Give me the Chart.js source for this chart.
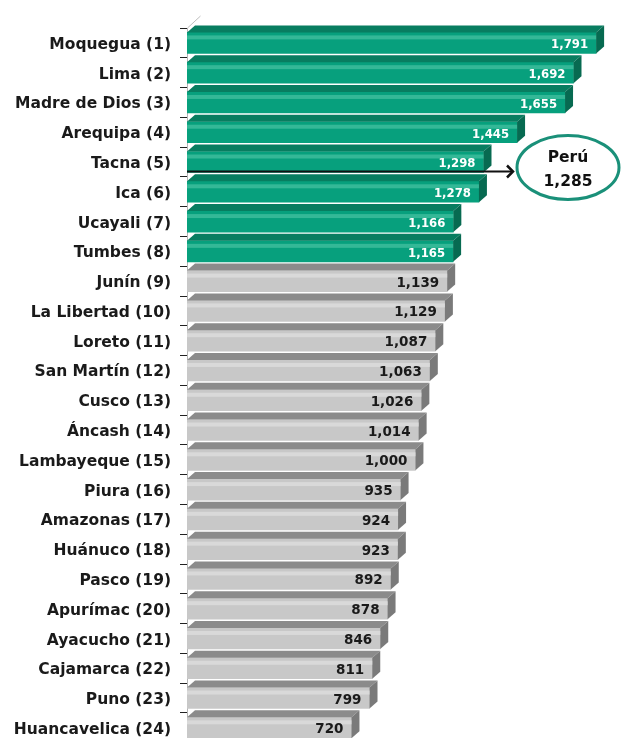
<!DOCTYPE html>
<html>
<head>
<meta charset="utf-8">
<script src="https://cdn.jsdelivr.net/npm/chart.js@4"></script>
<style>
  html, body { margin: 0; padding: 0; background: #fff; }
  #wrap { width: 621px; height: 738px; overflow: hidden; position: relative; }
</style>
</head>
<body>
<div id="wrap"><canvas id="chart" width="621" height="761"></canvas></div>
<script>
// datos del gráfico
const regions = [
  'Moquegua (1)', 'Lima (2)', 'Madre de Dios (3)', 'Arequipa (4)', 'Tacna (5)', 'Ica (6)',
  'Ucayali (7)', 'Tumbes (8)', 'Junín (9)', 'La Libertad (10)', 'Loreto (11)', 'San Martín (12)',
  'Cusco (13)', 'Áncash (14)', 'Lambayeque (15)', 'Piura (16)', 'Amazonas (17)', 'Huánuco (18)',
  'Pasco (19)', 'Apurímac (20)', 'Ayacucho (21)', 'Cajamarca (22)', 'Puno (23)', 'Huancavelica (24)'
];
const values = [
  1791, 1692, 1655, 1445, 1298, 1278,
  1166, 1165, 1139, 1129, 1087, 1063,
  1026, 1014, 1000, 935, 924, 923,
  892, 878, 846, 811, 799, 720
];
const aboveAverage = 8;          // las primeras 8 regiones en verde
const peruName = 'Perú';
const peruValue = 1285;

const fmt = v => v.toLocaleString('en-US');

const green = { front: '#07a07d', top: '#087d60', side: '#076a51', shine: '#34b897' };
const gray  = { front: '#c8c8c8', top: '#8b8b8b', side: '#7a7a7a', shine: '#d9d9d9' };
const DX = 8, DY = 7;

// Dibuja las caras 3D, los valores y la anotación de Perú
const bars3d = {
  id: 'bars3d',
  afterDatasetsDraw(chart) {
    const ctx = chart.ctx;
    const meta = chart.getDatasetMeta(0);
    const area = chart.chartArea;

    // arista superior del eje (pared)
    ctx.save();
    ctx.strokeStyle = '#bdbdbd';
    ctx.lineWidth = 1;
    ctx.beginPath();
    ctx.moveTo(area.left + 0.5, area.top);
    ctx.lineTo(area.left + 0.5 + 13, area.top - 12);
    ctx.stroke();
    ctx.restore();

    meta.data.forEach((bar, i) => {
      const c = i < aboveAverage ? green : gray;
      const x0 = bar.base, x1 = bar.x;
      const yT = bar.y - bar.height / 2, yB = bar.y + bar.height / 2;
      ctx.save();
      // cara superior
      ctx.fillStyle = c.top;
      ctx.beginPath();
      ctx.moveTo(x0, yT);
      ctx.lineTo(x1, yT);
      ctx.lineTo(x1 + DX, yT - DY);
      ctx.lineTo(x0 + DX, yT - DY);
      ctx.closePath();
      ctx.fill();
      // cara lateral
      ctx.fillStyle = c.side;
      ctx.beginPath();
      ctx.moveTo(x1, yT);
      ctx.lineTo(x1 + DX, yT - DY);
      ctx.lineTo(x1 + DX, yB - DY);
      ctx.lineTo(x1, yB);
      ctx.closePath();
      ctx.fill();
      // brillo en la cara frontal
      ctx.fillStyle = c.shine;
      ctx.fillRect(x0, yT + 3, x1 - x0, 4);

      // valor
      ctx.textAlign = 'right';
      ctx.textBaseline = 'middle';
      if (i < aboveAverage) {
        ctx.fillStyle = '#ffffff';
        ctx.font = 'bold 13px "DejaVu Sans Condensed", "DejaVu Sans"';
      } else {
        ctx.fillStyle = '#1a1a1a';
        ctx.font = 'bold 13.5px "DejaVu Sans"';
      }
      ctx.fillText(fmt(values[i]), x1 - 8, bar.y + 2);
      ctx.restore();
    });

    // flecha y elipse de Perú
    const tacna = meta.data[4];
    const ay = tacna.y + tacna.height / 2 - 1;
    const tipX = 513;
    ctx.save();
    ctx.strokeStyle = '#111';
    ctx.lineWidth = 2;
    ctx.beginPath();
    ctx.moveTo(area.left, ay);
    ctx.lineTo(tipX, ay);
    ctx.stroke();
    ctx.lineWidth = 2.5;
    ctx.beginPath();
    ctx.moveTo(tipX - 6, ay - 6);
    ctx.lineTo(tipX, ay);
    ctx.lineTo(tipX - 6, ay + 6);
    ctx.stroke();

    const cx = 568, cy = ay - 4;
    ctx.strokeStyle = '#1a9079';
    ctx.lineWidth = 3;
    ctx.fillStyle = '#ffffff';
    ctx.beginPath();
    ctx.ellipse(cx, cy, 51, 32, 0, 0, Math.PI * 2);
    ctx.fill();
    ctx.stroke();

    ctx.fillStyle = '#111';
    ctx.font = 'bold 15.5px "DejaVu Sans"';
    ctx.textAlign = 'center';
    ctx.textBaseline = 'middle';
    ctx.fillText(peruName, cx, cy - 10);
    ctx.fillText(fmt(peruValue), cx, cy + 14);
    ctx.restore();
  }
};

new Chart(document.getElementById('chart'), {
  type: 'bar',
  data: {
    labels: regions,
    datasets: [{
      data: values,
      backgroundColor: values.map((v, i) => i < aboveAverage ? green.front : gray.front),
      borderWidth: 0,
      barThickness: 21
    }]
  },
  options: {
    indexAxis: 'y',
    responsive: false,
    animation: false,
    devicePixelRatio: 1,
    layout: { padding: { top: 28, right: 0, bottom: 0, left: 0 } },
    plugins: { legend: { display: false }, tooltip: { enabled: false } },
    scales: {
      x: { display: false, min: 0, max: 1900 },
      y: {
        afterFit(scale) { scale.width = 187; },
        border: { display: true, color: '#b5b5b5', width: 1 },
        grid: {
          offset: true,
          drawOnChartArea: false,
          drawTicks: true,
          tickLength: 7,
          tickColor: '#222',
          color: '#222'
        },
        ticks: {
          color: '#1a1a1a',
          padding: 9,
          labelOffset: 2,
          font: { family: '"DejaVu Sans"', size: 15.5, weight: 'bold' }
        }
      }
    }
  },
  plugins: [bars3d]
});
</script>
</body>
</html>
